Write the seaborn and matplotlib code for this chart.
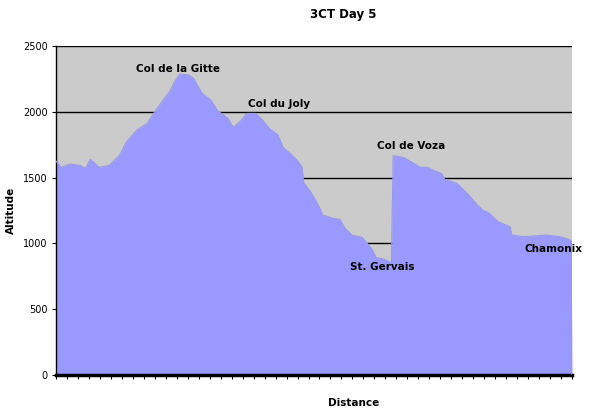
import pandas as pd
import matplotlib
matplotlib.use("Agg")
import matplotlib.pyplot as plt
import seaborn as sns
from matplotlib.ticker import MultipleLocator

# profile (distance in km, altitude in m)
distance = [0.0, 0.3, 0.8, 1.4, 1.7, 2.0, 2.5, 3.1, 3.7, 4.1, 4.7, 5.3, 5.7,
            6.3, 6.6, 6.9, 7.2, 7.7, 8.0, 8.2, 8.5, 9.0, 9.4, 10.0, 10.3,
            10.7, 11.1, 11.6, 12.0, 12.4, 12.9, 13.2, 13.6, 14.0, 14.3, 14.4,
            14.8, 15.3, 15.5, 16.1, 16.5, 16.8, 17.2, 17.8, 18.4, 18.6, 19.1,
            19.5, 19.6, 20.2, 20.8, 21.2, 21.6, 21.9, 22.4, 22.6, 23.3, 23.9,
            24.5, 24.8, 25.2, 25.7, 26.4, 26.5, 27.2, 27.7, 28.5, 29.3, 29.8,
            29.95, 30.0]
altitude = [1626, 1578, 1603, 1593, 1570, 1639, 1578, 1593, 1672, 1773, 1862,
            1912, 1993, 2102, 2153, 2229, 2287, 2280, 2254, 2204, 2140, 2090,
            2008, 1950, 1882, 1925, 1988, 1988, 1938, 1874, 1824, 1730, 1685,
            1634, 1583, 1460, 1393, 1279, 1216, 1191, 1183, 1115, 1064, 1046,
            950, 894, 879, 853, 1667, 1654, 1608, 1578, 1578, 1558, 1532, 1486,
            1457, 1381, 1292, 1254, 1229, 1165, 1127, 1064, 1051, 1056, 1064,
            1051, 1031, 1020, 0]

places = ["Col de la Gitte", "Col du Joly", "Col de Voza", "St. Gervais", "Chamonix"]
y_ticks = [0, 500, 1000, 1500, 2000, 2500]

df = pd.DataFrame({"Distance": distance, "Altitude": altitude})

sns.set_style("white")
plt.rcParams["font.family"] = ["DejaVu Sans"]
plt.rcParams["text.color"] = "black"
plt.rcParams["ytick.color"] = "black"

fig = plt.figure(figsize=(5.9, 4.12), dpi=100)
ax = fig.add_axes([0.0949, 0.0898, 0.8746, 0.7985])
ax.set_facecolor("#CBCBCB")

for t in y_ticks[1:]:
    ax.axhline(t, color="black", lw=1, zorder=1)

ax.fill_between(df["Distance"], df["Altitude"], 0, color="#9999FF", lw=0, zorder=2)
sns.lineplot(data=df, x="Distance", y="Altitude", ax=ax, color="#9A9AE8",
             lw=0.8, zorder=3, estimator=None, sort=False)

ax.set_xlim(0, 30)
ax.set_ylim(0, 2500)
ax.set_yticks(y_ticks)
ax.set_yticklabels([str(t) for t in y_ticks], fontsize=7)
ax.set_xticks([])
ax.xaxis.set_minor_locator(MultipleLocator(30 / 47))
ax.tick_params(axis="x", which="minor", bottom=True, length=3, width=0.8, color="black")
ax.tick_params(axis="y", which="major", left=True, length=3, width=0.8, color="black", pad=3)

for side in ["top", "right"]:
    ax.spines[side].set_visible(False)
ax.spines["left"].set_color("black")
ax.spines["left"].set_linewidth(1)
ax.spines["bottom"].set_color("black")
ax.spines["bottom"].set_linewidth(2.5)

label_pos = [(7.09, 2325), (12.97, 2059), (20.64, 1740), (18.95, 821), (28.9, 957)]
for name, (lx, ly) in zip(places, label_pos):
    ax.text(lx, ly, name, fontsize=7.5, fontweight="bold", ha="center",
            va="center", zorder=5)

ax.set_xlabel("")
ax.set_ylabel("")
fig.text(0.6, 0.022, "Distance", fontsize=7.5, fontweight="bold",
         ha="center", va="center")
fig.text(0.018, 0.49, "Altitude", fontsize=7.5, fontweight="bold",
         ha="center", va="center", rotation=90)
fig.text(0.581, 0.966, "3CT Day 5", fontsize=8.5, fontweight="bold",
         ha="center", va="center")

fig.savefig("out.png", dpi=100)
